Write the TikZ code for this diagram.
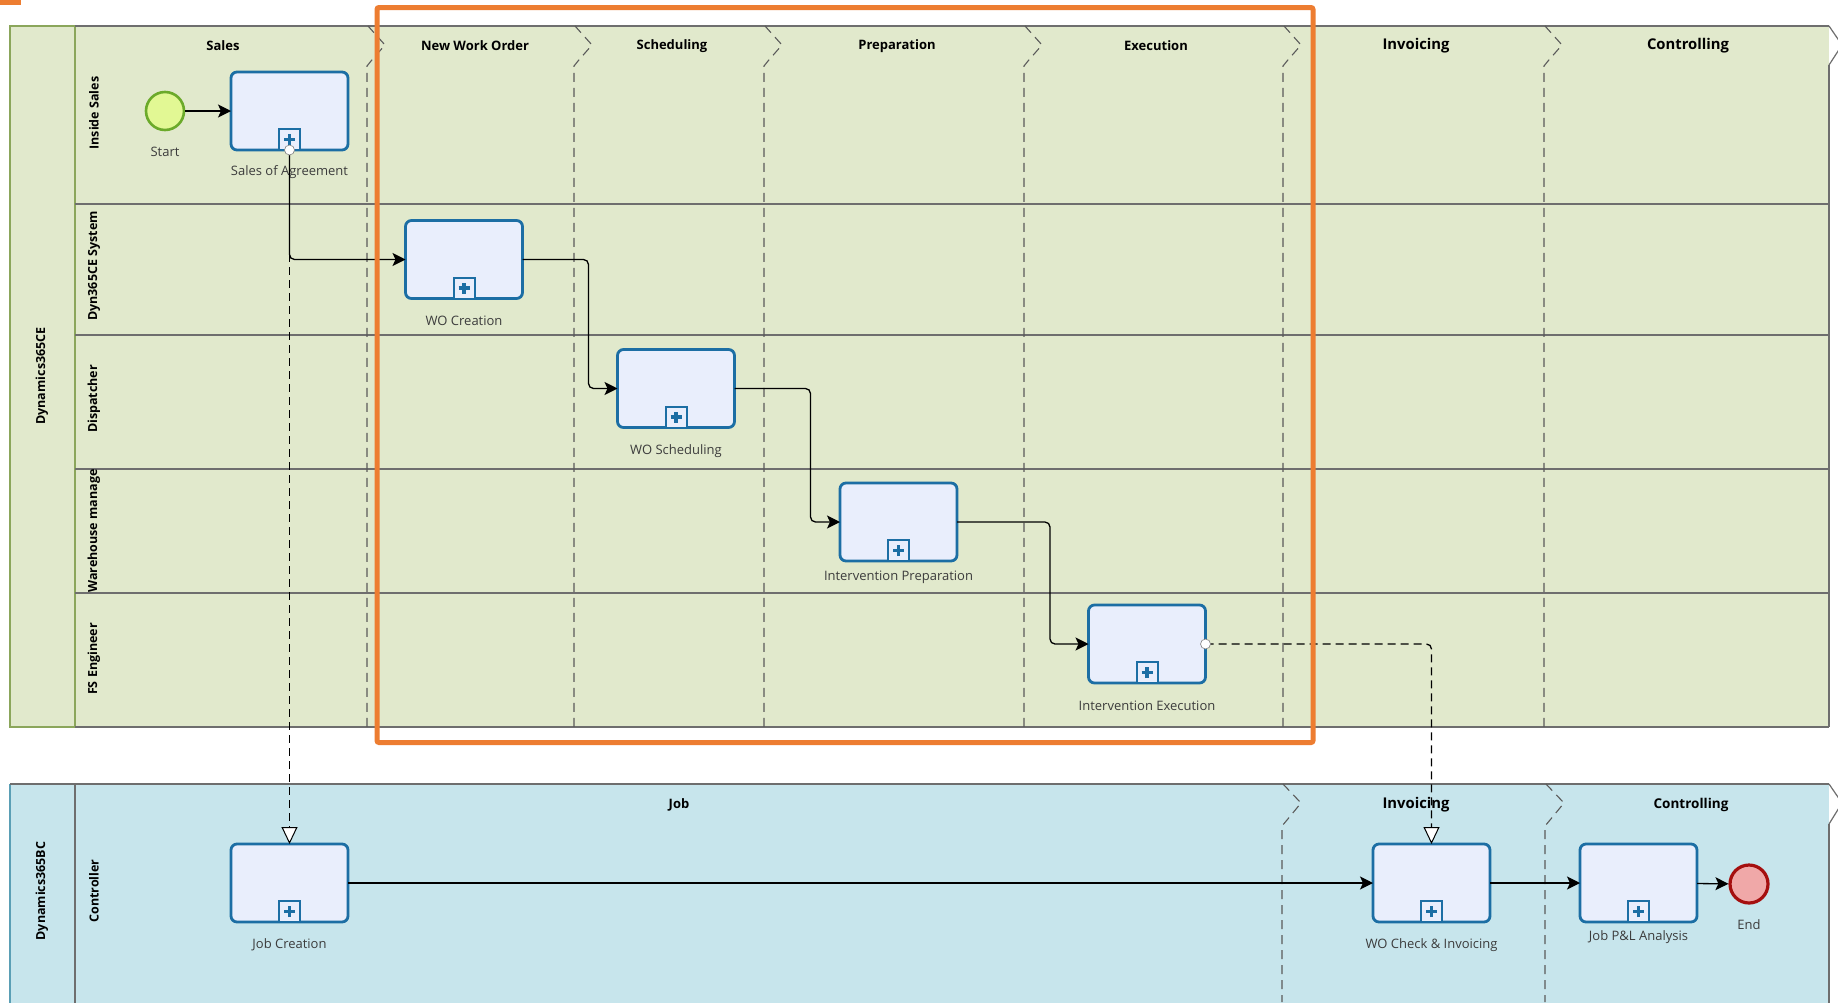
\documentclass[tikz,border=0pt]{standalone}
\usepackage{fontspec}
\setmainfont{Open Sans}
\usetikzlibrary{arrows.meta}
\definecolor{ceFill}{HTML}{E1E9CC}
\definecolor{ceBorder}{HTML}{8BA65B}
\definecolor{bcFill}{HTML}{C7E5EC}
\definecolor{bcBorder}{HTML}{5A9FB5}
\definecolor{laneLine}{HTML}{6E6E6E}
\definecolor{sepLine}{HTML}{5A5A5A}
\definecolor{taskBlue}{HTML}{1C6EA4}
\definecolor{taskFill}{HTML}{E9EEFC}
\definecolor{hlOrange}{HTML}{ED7D31}
\definecolor{startFill}{HTML}{E2F894}
\definecolor{startLine}{HTML}{6BAA2A}
\definecolor{endFill}{HTML}{F0A8A8}
\definecolor{endLine}{HTML}{A50F0F}
\definecolor{lblGrey}{HTML}{3C3C3C}
\tikzset{
  lane/.style={draw=laneLine, line width=1.4pt},
  sepline/.style={draw=sepLine, line width=1.1pt, dash pattern=on 9pt off 6pt},
  task/.style={rectangle, rounded corners=6pt, minimum width=117pt, minimum height=78pt,
    line width=2.8pt, draw=taskBlue, fill=taskFill, outer sep=0pt, inner sep=0pt},
  marker/.style={rectangle, minimum size=21pt, line width=2pt, draw=taskBlue, fill=taskFill,
    anchor=south, outer sep=0pt, inner sep=0pt},
  plusline/.style={draw=taskBlue, line width=3.6pt},
  lbl/.style={font=\fontsize{13}{15}\selectfont, text=lblGrey, inner sep=0pt},
  phase/.style={font=\fontsize{13}{15}\selectfont\bfseries, inner sep=0pt},
  bigphase/.style={font=\fontsize{14.8}{17}\selectfont\bfseries, inner sep=0pt},
  lanename/.style={font=\fontsize{12.5}{15}\selectfont\bfseries, rotate=90, inner sep=0pt},
  flow/.style={draw=black, line width=1.3pt, -{Stealth[length=13pt,width=13pt,inset=3pt]}},
  msg/.style={draw=black, line width=1.3pt, dash pattern=on 8pt off 5pt, rounded corners=5pt,
    -{Triangle[open, fill=white, length=17pt, width=16pt, line width=1pt]}},
  msgstart/.style={circle, fill=white, draw=gray, line width=0.6pt, minimum size=10pt, inner sep=0pt},
}
\begin{document}
\begin{tikzpicture}[x=1pt,y=-1pt]
\useasboundingbox (0,0) rectangle (1838,1002);
\fill[white] (0,0) rectangle (1838,1002);
\fill[hlOrange] (0,0) rectangle (21,4.5);

% ---------- top pool Dynamics365CE ----------
\fill[ceFill] (10,26) rectangle (1829,727);
\draw[draw=ceBorder, line width=1.4pt] (10,26) rectangle (75,727);
\draw[lane] (75,26) -- (1829,26);
\draw[lane] (75,727) -- (1829,727);
\draw[lane] (1829,65) -- (1829,727);
\draw[draw=laneLine, line width=1.2pt] (1829,26) -- (1842,45) -- (1829,65);
\foreach \yy in {204,335,469,593} \draw[lane] (75,\yy) -- (1829,\yy);
\foreach \s in {367,574,764,1024,1283,1544}
  \draw[sepline] (\s+1,26) -- (\s+18,45) -- (\s+4,61) -- (\s,66) -- (\s,727);

\node[lanename] (pce) at (42,376) {Dynamics365CE};
\node[lanename] (l1) at (94,113) {Inside Sales};
\node[lanename] (l2) at (94,266) {Dyn365CE System};
\node[lanename] (l3) at (94,399) {Dispatcher};
\node[lanename] (l4) at (94,531) {Warehouse manage};
\node[lanename] (l5) at (94,659) {FS Engineer};

\node[phase] (h1) at (223,46) {Sales};
\node[phase] (h2) at (475,46) {New Work Order};
\node[phase] (h3) at (672,46) {Scheduling};
\node[phase] (h4) at (897,46) {Preparation};
\node[phase] (h5) at (1156,46) {Execution};
\node[bigphase] (h6) at (1416,46) {Invoicing};
\node[bigphase] (h7) at (1688,46) {Controlling};

% ---------- bottom pool Dynamics365BC ----------
\fill[bcFill] (10,784) rectangle (1829,1010);
\draw[draw=bcBorder, line width=1.4pt] (10,784) -- (10,1010);
\draw[lane] (75,784) -- (75,1010);
\draw[lane] (10,784) -- (1829,784);
\draw[lane] (1829,824) -- (1829,1010);
\draw[draw=laneLine, line width=1.2pt] (1829,784) -- (1842,803) -- (1829,824);
\foreach \s in {1282,1545}
  \draw[sepline] (\s+1,784) -- (\s+19,803) -- (\s+5,820) -- (\s,826) -- (\s,1002);

\node[lanename] (pbc) at (42,891) {Dynamics365BC};
\node[lanename] (l6) at (94,891) {Controller};
\node[phase] (h8) at (679,805) {Job};
\node[bigphase] (h9) at (1416,805) {Invoicing};
\node[phase, font=\fontsize{13.5}{16}\selectfont\bfseries] (h10) at (1691,805) {Controlling};

% ---------- events and tasks ----------
\node[circle, minimum size=38pt, inner sep=0pt, line width=2.6pt, draw=startLine, fill=startFill] (start) at (165,111) {};
\node[lbl] (startl) at (165,152) {Start};

\node[task] (soa) at (289.5,111) {};
\node[task] (woc) at (464,259.5) {};
\node[task] (wos) at (676,388.5) {};
\node[task] (ip) at (898.5,522) {};
\node[task] (ie) at (1147,644) {};
\node[task] (jc) at (289.5,883) {};
\node[task] (wci) at (1431.5,883) {};
\node[task] (jpl) at (1638.5,883) {};

\foreach \t in {soa,woc,wos,ip,ie,jc,wci,jpl} {
  \node[marker] (\t-m) at (\t.south) {};
  \draw[plusline] ([xshift=-5.5pt]\t-m.center) -- ([xshift=5.5pt]\t-m.center);
  \draw[plusline] ([yshift=-5.5pt]\t-m.center) -- ([yshift=5.5pt]\t-m.center);
}

\node[circle, minimum size=38pt, inner sep=0pt, line width=3.2pt, draw=endLine, fill=endFill] (end) at (1749,884) {};
\node[lbl] (endl) at (1749,925) {End};

\node[lbl] (soal) at (289.5,172) {Sales of Agreement};
\node[lbl] (wocl) at (464,321) {WO Creation};
\node[lbl] (wosl) at (676,451) {WO Scheduling};
\node[lbl] (ipl) at (898.5,577) {Intervention Preparation};
\node[lbl] (iel) at (1147,706) {Intervention Execution};
\node[lbl] (jcl) at (289.5,945) {Job Creation};
\node[lbl] (wcil) at (1431.5,945) {WO Check \& Invoicing};
\node[lbl] (jpll) at (1638.5,937) {Job P\&L Analysis};

% ---------- connectors ----------
\draw[flow] (start) -- (soa);
\draw[msg] (soa.south) -- (jc.north);
\draw[flow, rounded corners=5pt] (soa.south) |- (woc.west);
\draw[flow, rounded corners=5pt] (woc.east) -- ++(66,0) |- (wos.west);
\draw[flow, rounded corners=5pt] (wos.east) -- ++(76,0) |- (ip.west);
\draw[flow, rounded corners=5pt] (ip.east) -- ++(93,0) |- (ie.west);
\draw[msg] (ie.east) -| (wci.north);
\node[msgstart] (ms1) at (soa.south) {};
\node[msgstart] (ms2) at (ie.east) {};
\draw[flow] (jc) -- (wci);
\draw[flow] (wci) -- (jpl);
\draw[flow] (jpl) -- (end);

% ---------- highlight ----------
\draw[hlOrange, line width=5pt, rounded corners=2pt] (377,7.5) rectangle (1313,742.5);
\end{tikzpicture}
\end{document}
